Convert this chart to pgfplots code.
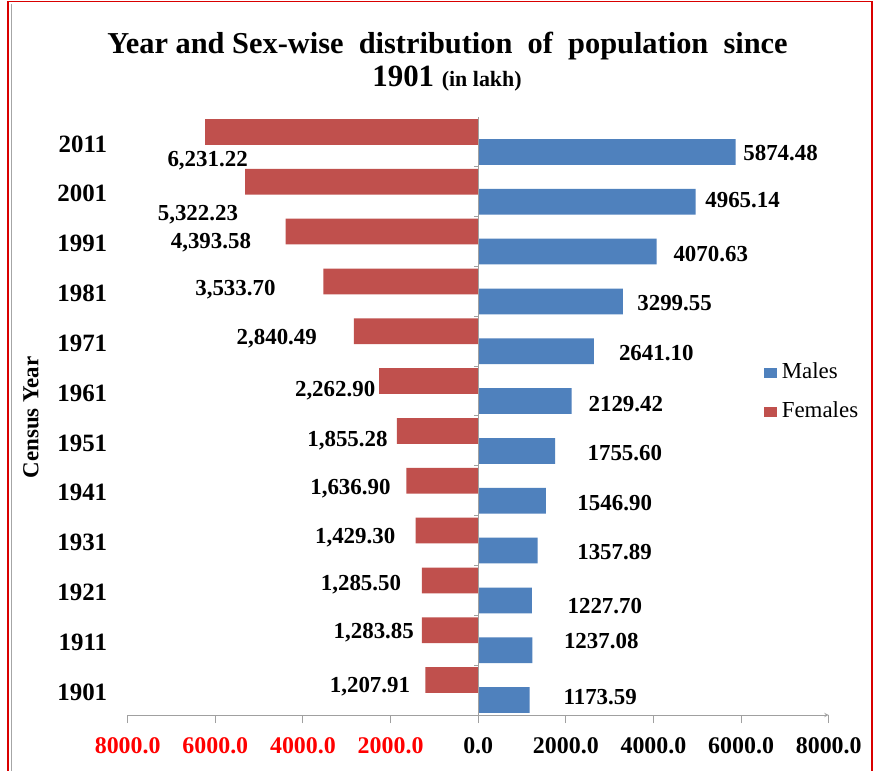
\documentclass[border=0pt]{standalone}
\usepackage{fontspec}
\setmainfont{Liberation Serif}
\usepackage{pgfplots}
\pgfplotsset{compat=1.18}
\definecolor{mblue}{HTML}{4F81BD}
\definecolor{fred}{HTML}{C0504D}
\definecolor{axgray}{HTML}{A0A0A0}
\newcommand{\fs}[1]{\fontsize{#1}{#1}\selectfont}
\begin{document}
\begin{tikzpicture}
\path[use as bounding box, fill=white] (0,0) rectangle (874bp,771bp);
% frame
\draw[red!85!black, line width=1.6bp] (8bp,0) -- (8bp,769.5bp) -- (872bp,769.5bp) -- (872bp,0);
\draw[gray!70, line width=1bp] (11.5bp,0) -- (11.5bp,767bp);
% title
\node[font=\bfseries\fs{30.5}] at (447.5bp,725bp) {Year and Sex-wise\ \ distribution\ \ of\ \ population\ \ since};
\node at (447bp,692bp) {\bfseries\fs{31}1901 \fs{22}(in lakh)};
\begin{axis}[
  at={(127.7bp,56bp)}, anchor=south west, scale only axis,
  width=701bp, height=598bp,
  xmin=-8000, xmax=8000, ymin=-0.5, ymax=11.5,
  axis x line=bottom, axis y line=left,
  x axis line style={axgray, line width=1bp},
  y axis line style={draw=none},
  xtick={-8000,-6000,-4000,-2000,0,2000,4000,6000,8000},
  xticklabels={\textcolor{red}{8000.0},\textcolor{red}{6000.0},\textcolor{red}{4000.0},\textcolor{red}{2000.0},0.0,2000.0,4000.0,6000.0,8000.0},
  xtick align=outside, major tick length=8bp,
  xtick style={axgray, line width=1bp},
  xticklabel style={font=\bfseries\fs{24}, yshift=-11bp},
  ytick={0,...,11},
  yticklabels={1901,1911,1921,1931,1941,1951,1961,1971,1981,1991,2001,2011},
  ytick style={draw=none},
  yticklabel style={font=\bfseries\fs{25}, xshift=-13bp, yshift=-2bp},
  ylabel={Census Year},
  ylabel style={font=\bfseries\fs{23}, at={(axis description cs:-0.138,0.4975)}, anchor=center},
  legend style={at={(axis description cs:0.908,0.5397)}, anchor=west, draw=none, fill=none,
    inner sep=0pt, row sep=17.5bp, font=\fs{23},
    nodes={inner sep=0pt, text height=16bp, text depth=5bp},
    /tikz/column sep=5bp},
  legend cell align=left,
  legend image code/.code={\fill[#1] (0bp,-5bp) rectangle (12.4bp,5bp);},
  clip=false,
]
\addplot[xbar, bar width=25.7bp, bar shift=-10bp, fill=mblue, draw=none] coordinates {
(1173.59,0) (1237.08,1) (1227.70,2) (1357.89,3) (1546.90,4) (1755.60,5)
(2129.42,6) (2641.10,7) (3299.55,8) (4070.63,9) (4965.14,10) (5874.48,11)};
\addlegendentry{Males}
\addplot[xbar, bar width=25.7bp, bar shift=10bp, fill=fred, draw=none] coordinates {
(-1207.91,0) (-1283.85,1) (-1285.50,2) (-1429.30,3) (-1636.90,4) (-1855.28,5)
(-2262.90,6) (-2840.49,7) (-3533.70,8) (-4393.58,9) (-5322.23,10) (-6231.22,11)};
\addlegendentry{Females}
% zero line with category ticks
\draw[axgray, line width=1bp] (axis cs:0,-0.5) -- (axis cs:0,11.5);
\pgfplotsinvokeforeach{0,...,10}{\draw[axgray, line width=1bp] (axis cs:0,#1.5) -- ([xshift=-4bp]axis cs:0,#1.5);}
% value labels (females)
\begin{scope}[every node/.style={font=\bfseries\fs{23}, inner sep=0pt}]
\node at (axis cs:-6176,10.627) {6,231.22};
\node at (axis cs:-6397,9.530) {5,322.23};
\node at (axis cs:-6100,8.978) {4,393.58};
\node at (axis cs:-5541,8.042) {3,533.70};
\node at (axis cs:-4598,7.057) {2,840.49};
\node at (axis cs:-3265,6.004) {2,262.90};
\node at (axis cs:-2984,5.001) {1,855.28};
\node at (axis cs:-2916,4.048) {1,636.90};
\node at (axis cs:-2808,3.061) {1,429.30};
\node at (axis cs:-2676,2.124) {1,285.50};
\node at (axis cs:-2384,1.155) {1,283.85};
\node at (axis cs:-2470,0.068) {1,207.91};
% males
\node at (axis cs:6902,10.774) {5874.48};
\node at (axis cs:6034,9.825) {4965.14};
\node at (axis cs:5308,8.744) {4070.63};
\node at (axis cs:4482,7.775) {3299.55};
\node at (axis cs:4064,6.762) {2641.10};
\node at (axis cs:3370,5.739) {2129.42};
\node at (axis cs:3347,4.762) {1755.60};
\node at (axis cs:3116,3.753) {1546.90};
\node at (axis cs:3112,2.760) {1357.89};
\node at (axis cs:2890,1.681) {1227.70};
\node at (axis cs:2808,0.994) {1237.08};
\node at (axis cs:2785,-0.139) {1173.59};
\end{scope}
\end{axis}
\end{tikzpicture}
\end{document}
